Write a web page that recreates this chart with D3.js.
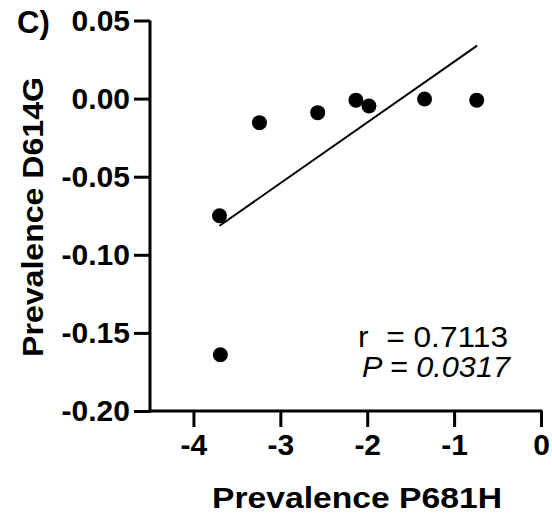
<!DOCTYPE html>
<html><head><meta charset="utf-8">
<script src="https://cdn.jsdelivr.net/npm/d3@7"></script>
<style>body{margin:0;background:#fff}svg{display:block}text{font-family:"Liberation Sans",Arial,Helvetica,sans-serif}</style>
</head><body>
<svg id="c" width="552" height="513"></svg>
<script>
const xVals = [-3.70, -3.69, -3.24, -2.57, -2.13, -1.98, -1.34, -0.74];
const yVals = [-0.075, -0.164, -0.0154, -0.009, -0.001, -0.0047, -0.0003, -0.001];
const fitX = [-3.70, -0.735];
const fitY = [-0.0814, 0.0339];
const xTicks = [-4, -3, -2, -1, 0];
const yTicks = [0.05, 0.00, -0.05, -0.10, -0.15, -0.20];
const statR = "r  = 0.7113";
const statP = "P = 0.0317";

const svg = d3.select("#c");
const x = d3.scaleLinear().domain([-4.5, 0]).range([150, 541]);
const y = d3.scaleLinear().domain([-0.20, 0.05]).range([411, 20.5]);

const yAxis = svg.append("g").attr("transform","translate(150,0)")
  .call(d3.axisLeft(y).tickValues(yTicks).tickSize(16).tickPadding(4).tickSizeOuter(0).tickFormat(d=>d3.format(".2f")(d).replace("−","-")));
const xAxis = svg.append("g").attr("transform","translate(0,411)")
  .call(d3.axisBottom(x).tickValues(xTicks).tickSize(16).tickPadding(7).tickSizeOuter(0).tickFormat(d=>d3.format("d")(d).replace("−","-")));
[yAxis,xAxis].forEach(a=>{
  a.selectAll("path,line").attr("stroke","#000").attr("stroke-width",3);
  a.selectAll("text").attr("fill","#000").attr("font-size",30).attr("font-weight","bold");
});
yAxis.select("path").attr("d","M0,"+y(0.05)+"V"+(y(-0.20)+1.5));
xAxis.select("path").attr("d","M"+(x(-4.5)-1.5)+",0H"+(x(0)+1.5));

svg.append("line")
  .attr("x1",x(fitX[0])).attr("y1",y(fitY[0]))
  .attr("x2",x(fitX[1])).attr("y2",y(fitY[1]))
  .attr("stroke","#000").attr("stroke-width",2);

svg.selectAll("circle.pt").data(xVals.map((v,i)=>[v,yVals[i]])).enter().append("circle")
  .attr("class","pt").attr("cx",d=>x(d[0])).attr("cy",d=>y(d[1])).attr("r",7.5).attr("fill","#000");

svg.append("text").attr("x",17).attr("y",33).attr("font-size",31).attr("font-weight","bold").text("C)");

svg.append("text").attr("transform","translate(43,217) rotate(-90)").attr("text-anchor","middle")
  .attr("font-size",30).attr("font-weight","bold")
  .attr("textLength",280).attr("lengthAdjust","spacingAndGlyphs").text("Prevalence D614G");
svg.append("text").attr("x",357).attr("y",508).attr("text-anchor","middle")
  .attr("font-size",30).attr("font-weight","bold")
  .attr("textLength",290).attr("lengthAdjust","spacingAndGlyphs").text("Prevalence P681H");

svg.append("text").attr("x",508).attr("y",347).attr("text-anchor","end").attr("font-size",30)
  .style("white-space","pre").attr("textLength",150).attr("lengthAdjust","spacingAndGlyphs").text(statR);
svg.append("text").attr("x",510).attr("y",377).attr("text-anchor","end").attr("font-size",30)
  .attr("font-style","italic").attr("textLength",148).attr("lengthAdjust","spacingAndGlyphs").text(statP);
</script>
</body></html>
